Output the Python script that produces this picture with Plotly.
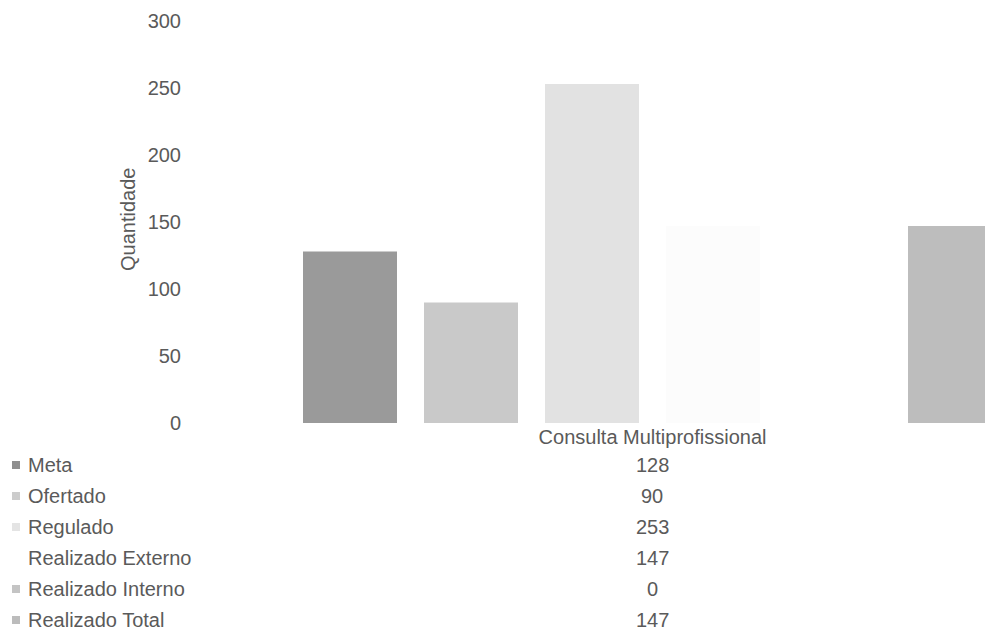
import plotly.graph_objects as go

# ---- data ----
category = ["Consulta Multiprofissional"]
series_names = ["Meta", "Ofertado", "Regulado", "Realizado Externo", "Realizado Interno", "Realizado Total"]
series_values = [128, 90, 253, 147, 0, 147]
series_colors = ["#9a9a9a", "#c9c9c9", "#e2e2e2", "#fcfcfc", "#cfcfcf", "#bdbdbd"]
key_colors = ["#8f8f8f", "#cccccc", "#e4e4e4", None, "#c4c4c4", "#bcbcbc"]
y_ticks = [0, 50, 100, 150, 200, 250, 300]

# page is shown with an 8px body margin; work in page pixels and convert
OFF = 8
PAGE_W, PAGE_H = 993, 632
W, H = PAGE_W - OFF, PAGE_H - OFF

plot_left, plot_right, plot_top, plot_bottom = 185, 993, 21, 423  # page px
ML = plot_left - OFF
MR = PAGE_W - plot_right
MT = plot_top - OFF
MB = PAGE_H - plot_bottom
PW = plot_right - plot_left
PH = plot_bottom - plot_top

FONT = "Liberation Sans, Arial, sans-serif"
TXT = "#5a5a5a"
FS = 20

fig = go.Figure()
for name, val, col in zip(series_names, series_values, series_colors):
    fig.add_trace(go.Bar(name=name, x=category, y=[val], marker=dict(color=col, line=dict(width=0)),
                         showlegend=False))

bargap = 0.1
px_per_unit = 726 / (1 - bargap)
center_px = 652.5
xa = (plot_left - center_px) / px_per_unit
xb = (plot_right - center_px) / px_per_unit


def px2paper_x(px):
    return (px - plot_left) / PW


def px2paper_y(py):
    return (plot_bottom - py) / PH


annotations = []
shapes = []
row_y0, row_step = 465, 31
for i, (name, val, kc) in enumerate(zip(series_names, series_values, key_colors)):
    cy = row_y0 + i * row_step
    yp = px2paper_y(cy)
    annotations.append(dict(xref="paper", yref="paper", x=px2paper_x(26), y=yp, text=name,
                            showarrow=False, xanchor="left", yanchor="middle",
                            font=dict(family=FONT, size=FS, color=TXT)))
    annotations.append(dict(xref="paper", yref="paper", x=px2paper_x(652), y=yp, text=str(val),
                            showarrow=False, xanchor="center", yanchor="middle",
                            font=dict(family=FONT, size=FS, color=TXT)))
    if kc:
        shapes.append(dict(type="rect", xref="paper", yref="paper",
                           x0=px2paper_x(12), x1=px2paper_x(20),
                           y0=px2paper_y(cy - 4), y1=px2paper_y(cy + 4),
                           fillcolor=kc, line=dict(width=0)))

annotations.append(dict(xref="paper", yref="paper", x=px2paper_x(128), y=px2paper_y(220),
                        text="Quantidade", textangle=-90, showarrow=False,
                        xanchor="center", yanchor="middle",
                        font=dict(family=FONT, size=FS, color=TXT)))

fig.update_layout(
    width=W, height=H,
    margin=dict(l=ML, r=MR, t=MT, b=MB),
    paper_bgcolor="white", plot_bgcolor="white",
    barmode="group", bargap=bargap, bargroupgap=1 - 94 / 121,
    font=dict(family=FONT, size=FS, color=TXT),
    xaxis=dict(type="category", range=[xa, xb], showgrid=False, zeroline=False, showline=False,
               ticks="", tickfont=dict(family=FONT, size=FS, color=TXT)),
    yaxis=dict(range=[0, 300], tickvals=y_ticks, showgrid=False, zeroline=False, showline=False,
               ticks="", ticklabelstandoff=3, tickfont=dict(family=FONT, size=FS, color=TXT)),
    annotations=annotations, shapes=shapes,
)

fig.write_html("out.html")
